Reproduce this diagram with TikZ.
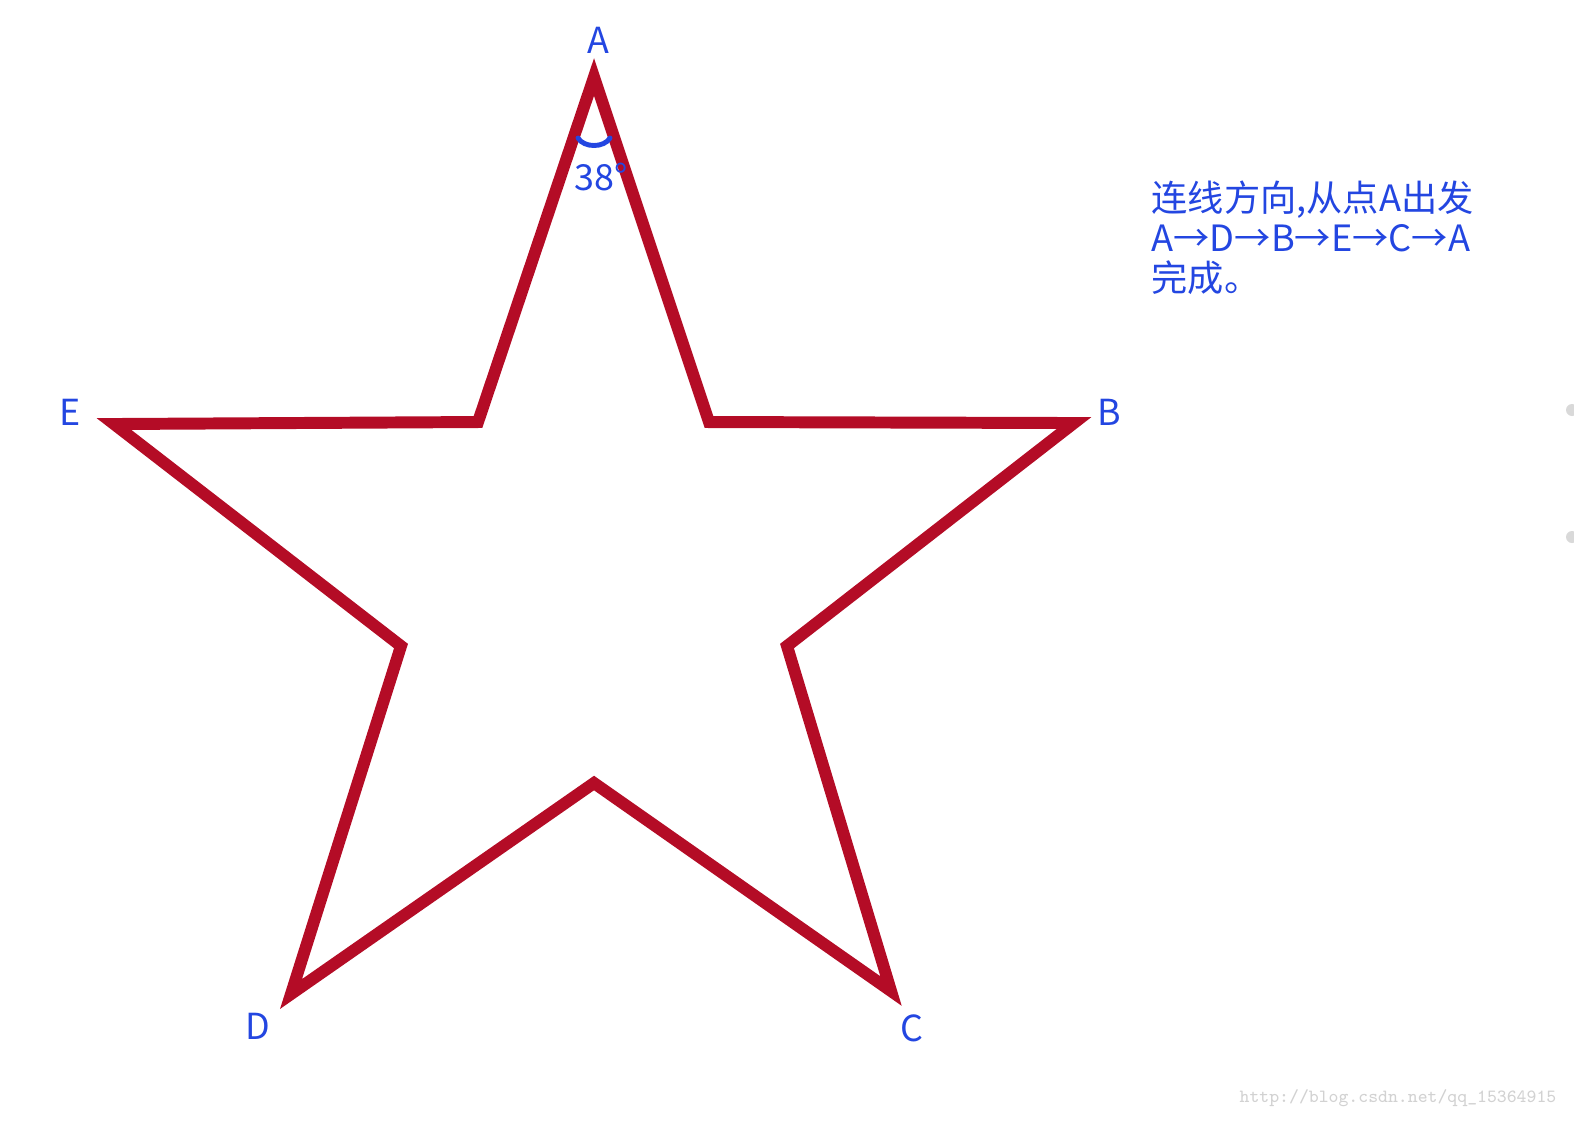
\documentclass[tikz,border=0pt]{standalone}
\usepackage{fontspec}
\usepackage{xcolor}
\usepackage{tikz}
\usetikzlibrary{positioning, calc}
\newfontfamily\cjk{Noto Sans CJK SC}
\definecolor{starred}{RGB}{180,12,38}
\definecolor{lblblue}{RGB}{35,70,225}
\tikzset{
  starline/.style={line width=3.4pt, color=starred, line join=miter},
  ptlabel/.style={font=\cjk\fontsize{10.2}{12}\selectfont, text=lblblue, inner sep=0pt},
}

\begin{document}
\begin{tikzpicture}[x=0.01cm, y=-0.01cm]
  \useasboundingbox (0, 0) rectangle (1574, 1120);

  % star points
  \coordinate (A) at (594, 77);
  \coordinate (B) at (1074, 423);
  \coordinate (C) at (891, 991);
  \coordinate (D) at (291, 994);
  \coordinate (E) at (114, 424);
  \coordinate (ae) at (478, 422);
  \coordinate (ab) at (709, 422);
  \coordinate (bc) at (787, 646);
  \coordinate (cd) at (594, 783);
  \coordinate (de) at (401, 646);

  \draw [starline] (A) -- (ab) -- (B) -- (bc) -- (C) -- (cd) -- (D) -- (de) -- (E) -- (ae) -- cycle;

  % angle at A
  \draw [line width=1.4pt, color=lblblue, line cap=round]
    ($(A)+(-16,61)$) .. controls ($(A)+(-10,71)$) and ($(A)+(10,71)$) .. ($(A)+(16,61)$);
  \node [ptlabel] (angA) at (601, 177) {38°};

  % point names
  \node [ptlabel] (labA) at (598, 40) {A};
  \node [ptlabel] (labB) at (1109, 412) {B};
  \node [ptlabel] (labC) at (912, 1028) {C};
  \node [ptlabel] (labD) at (258, 1026) {D};
  \node [ptlabel] (labE) at (70, 412) {E};

  % note
  \node [ptlabel, anchor=north west, align=left, font=\cjk\fontsize{10.3}{11.4}\selectfont] (note) at (1151, 180)
    {连线方向,从点A出发\\A→D→B→E→C→A\\完成。};

  % watermark and edge marks
  \node [anchor=south east, inner sep=0pt, text=gray!35, font=\ttfamily\fontsize{5.3}{6}\selectfont] (mark) at (1557, 1107) {http://blog.csdn.net/qq\_15364915};
  \fill [gray!30] (1572, 410) circle (6);
  \fill [gray!30] (1572, 537) circle (6);
\end{tikzpicture}
\end{document}
